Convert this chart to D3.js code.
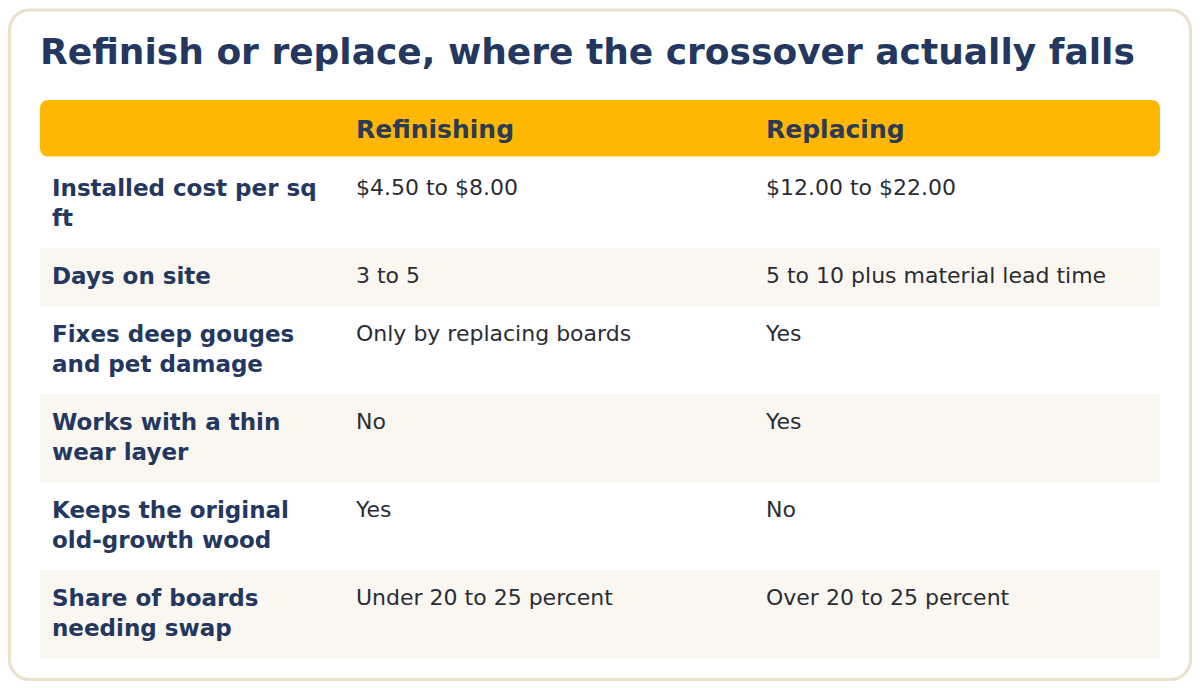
<!DOCTYPE html>
<html><head><meta charset="utf-8">
<script src="https://cdn.jsdelivr.net/npm/d3@7"></script>
<style>html,body{margin:0;padding:0;background:#fff}svg{display:block}</style></head>
<body><div id="c"></div>
<script>
const titleText = "Refinish or replace, where the crossover actually falls";
const columns = ["", "Refinishing", "Replacing"];
const rowLabels = [["Installed cost per sq","ft"],["Days on site"],["Fixes deep gouges","and pet damage"],["Works with a thin","wear layer"],["Keeps the original","old-growth wood"],["Share of boards","needing swap"]];
const refinishing = ["$4.50 to $8.00","3 to 5","Only by replacing boards","No","Yes","Under 20 to 25 percent"];
const replacing = ["$12.00 to $22.00","5 to 10 plus material lead time","Yes","Yes","No","Over 20 to 25 percent"];
const rowTops = [160,248,306,394,482,570,658];
const colX = [52,356,766];
const font = "'DejaVu Sans',sans-serif";
const svg = d3.select("#c").append("svg").attr("width",1200).attr("height",688);
svg.append("rect").attr("x",9.5).attr("y",10).attr("width",1181).attr("height",669.5).attr("rx",20)
  .attr("fill","#fff").attr("stroke","#ebe1ca").attr("stroke-width",3);
svg.append("text").attr("x",40).attr("y",64).attr("font-family",font).attr("font-weight",700).attr("font-size",36).attr("fill","#23375f").text(titleText);
svg.append("rect").attr("x",40).attr("y",100).attr("width",1120).attr("height",56.5).attr("rx",8).attr("fill","#ffb703");
svg.selectAll("text.h").data(columns).join("text").attr("class","h").attr("x",(d,i)=>colX[i]).attr("y",138)
  .attr("font-family",font).attr("font-weight",700).attr("font-size",25).attr("fill","#2b3a55").text(d=>d);
rowLabels.forEach((lines,i)=>{
  const y0=rowTops[i], y1=rowTops[i+1];
  if(i%2==1) svg.append("rect").attr("x",40).attr("y",y0).attr("width",1120).attr("height",y1-y0+0.5).attr("fill","#faf7f1");
  lines.forEach((l,j)=>svg.append("text").attr("x",colX[0]).attr("y",y0+35.5+j*30).attr("font-family",font).attr("font-weight",700).attr("font-size",23).attr("fill","#23375f").text(l));
  [refinishing,replacing].forEach((col,k)=>svg.append("text").attr("x",colX[k+1]).attr("y",y0+34.5).attr("font-family",font).attr("font-size",22).attr("fill","#2a2d34").text(col[i]));
});
</script></body></html>
